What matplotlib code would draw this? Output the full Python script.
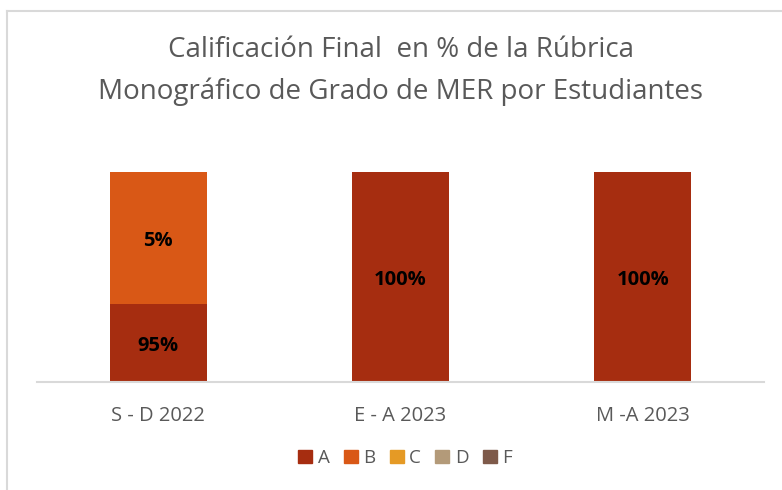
import matplotlib.pyplot as plt
from matplotlib.patches import Rectangle
from matplotlib.lines import Line2D

# categories and stacked shares (bar heights as drawn in the original chart)
periods = ["S - D 2022", "E - A 2023", "M -A 2023"]
grades = ["A", "B", "C", "D", "F"]
heights = {
    "A": [37, 100, 100],
    "B": [63, 0, 0],
    "C": [0, 0, 0],
    "D": [0, 0, 0],
    "F": [0, 0, 0],
}
labels = {
    "A": ["95%", "100%", "100%"],
    "B": ["5%", "", ""],
}
colors = {"A": "#A62D10", "B": "#D95816", "C": "#E59A25",
          "D": "#B39A79", "F": "#7E5A4A"}

plt.rcParams["font.family"] = ["Open Sans", "DejaVu Sans"]

fig = plt.figure(figsize=(7.82, 4.9), dpi=100)
W, H = 782, 490
# plot area: x 37..764 px, y baseline 382, 100% at 172
ax = fig.add_axes([37 / W, 1 - 382 / H, (764 - 37) / W, (382 - 172) / H])

x = list(range(len(periods)))
bottom = [0] * len(periods)
for g in grades:
    ax.bar(x, heights[g], width=0.4, bottom=bottom, color=colors[g],
           edgecolor="none", label=g)
    if g in labels:
        for i, txt in enumerate(labels[g]):
            if txt:
                ax.text(i, bottom[i] + heights[g][i] / 2 - 1.5, txt,
                        ha="center", va="center", fontsize=14.5,
                        fontweight="bold", color="black")
    bottom = [b + h for b, h in zip(bottom, heights[g])]

ax.set_xlim(-0.5, 2.5)
ax.set_ylim(0, 100)
ax.set_yticks([])
ax.set_xticks(x)
ax.set_xticklabels(periods, fontsize=14.5, color="#595959")
ax.tick_params(axis="x", length=0, pad=17)
for s in ["top", "right", "left"]:
    ax.spines[s].set_visible(False)
ax.spines["bottom"].set_color("#D9D9D9")
ax.spines["bottom"].set_linewidth(1.5)

fig.text(401 / W, 1 - 50 / H, "Calificación Final  en % de la Rúbrica",
         ha="center", va="center", fontsize=20, color="#595959")
fig.text(401 / W, 1 - 92 / H, "Monográfico de Grado de MER por Estudiantes",
         ha="center", va="center", fontsize=20, color="#595959")

handles = [Rectangle((0, 0), 1, 1, color=colors[g]) for g in grades]
fig.legend(handles, grades, loc="center", bbox_to_anchor=(405 / W, 1 - 458 / H),
           ncol=5, frameon=False, fontsize=13.5, handlelength=0.75,
           handleheight=0.75, handletextpad=0.3, columnspacing=0.75,
           labelcolor="#595959")

# chart frame
fig.add_artist(Line2D([7 / W, 7 / W], [0, 1 - 11 / H], color="#D9D9D9",
                      lw=1.5, transform=fig.transFigure))
fig.add_artist(Line2D([7 / W, 1], [1 - 11 / H, 1 - 11 / H], color="#D9D9D9",
                      lw=1.5, transform=fig.transFigure))

fig.savefig("out.png", dpi=100)
